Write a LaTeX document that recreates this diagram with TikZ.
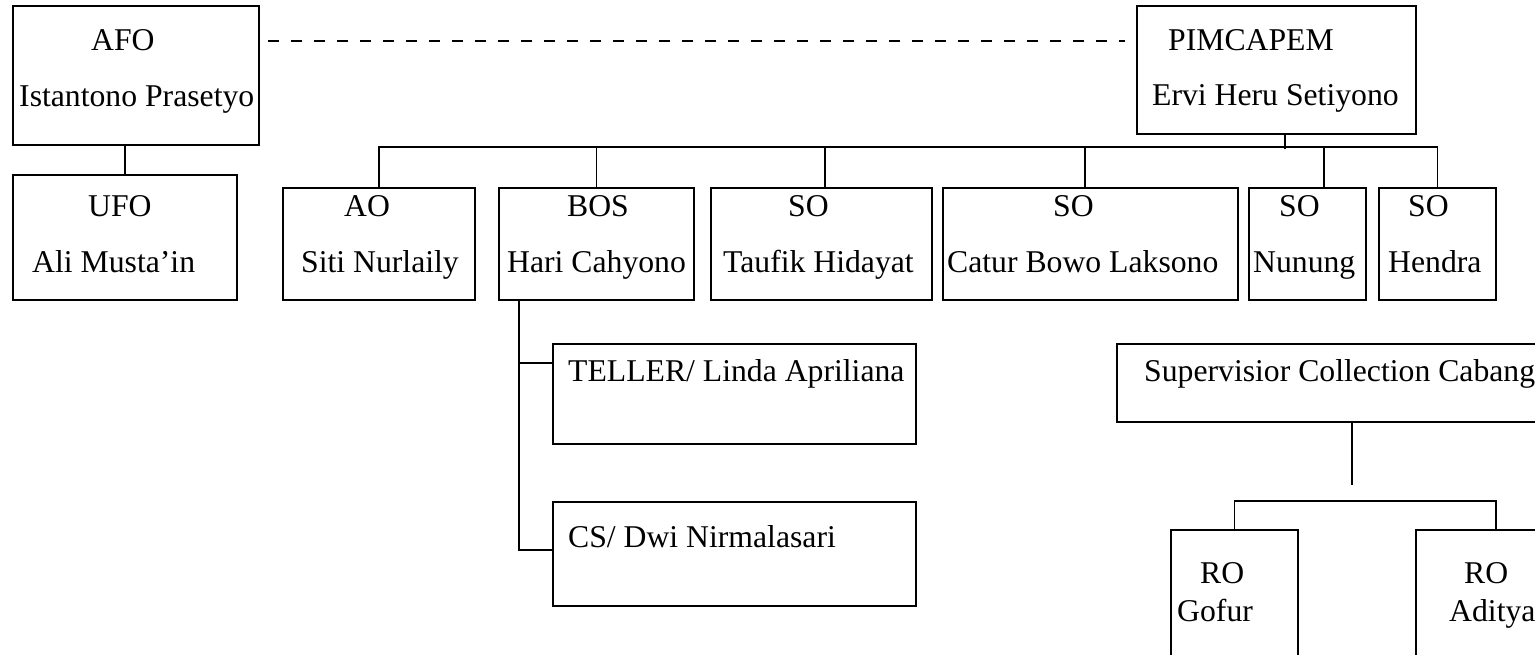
\documentclass[tikz,border=0pt]{standalone}
\usepackage{fontspec}
\setmainfont{Liberation Serif}
\usetikzlibrary{calc}

\begin{document}
\begin{tikzpicture}[
    x=1pt, y=-1pt,
    orgbox/.style={draw, rectangle, line width=1.8pt, inner sep=0pt},
    lbl/.style={anchor=base west, inner sep=0pt,
                font=\fontsize{31.7pt}{38pt}\selectfont},
    conn/.style={line width=1.8pt},
    linkdash/.style={line width=1.6pt, dash pattern=on 11pt off 12pt},
]
\useasboundingbox (0,0) rectangle (1535,654);
\clip (0,0) rectangle (1535,654);

% --- LEFT: AFO branch ---
\node[orgbox, minimum width=246pt, minimum height=139pt] (afo) at (136,75.5) {};
\node[orgbox, minimum width=224pt, minimum height=125pt] (ufo) at (125,237.5) {};
\node[lbl] (afo-t) at (91,50) {AFO};
\node[lbl] (afo-n) at (19,106) {Istantono Prasetyo};
\node[lbl] (ufo-t) at (88,216) {UFO};
\node[lbl] (ufo-n) at (32,272) {Ali Musta’in};
\draw[conn] (ufo.north) -- (ufo.north |- afo.south);

% --- TOP: PIMCAPEM and its staff ---
\node[orgbox, minimum width=279pt, minimum height=128pt] (pim) at (1276.5,70) {};
\node[lbl] (pim-t) at (1168,50) {PIMCAPEM};
\node[lbl] (pim-n) at (1152,105) {Ervi Heru Setiyono};
\draw[linkdash] ($(afo.north east)+(8,36)$) -- ($(pim.north west)+(-11,36)$);

\node[orgbox, minimum width=192pt, minimum height=112pt] (ao) at (379,244) {};
\node[orgbox, minimum width=195pt, minimum height=112pt] (bos) at (596.5,244) {};
\node[orgbox, minimum width=221pt, minimum height=112pt] (taufik) at (821.5,244) {};
\node[orgbox, minimum width=295pt, minimum height=112pt] (catur) at (1090.5,244) {};
\node[orgbox, minimum width=117pt, minimum height=112pt] (nunung) at (1307.5,244) {};
\node[orgbox, minimum width=117pt, minimum height=112pt] (hendra) at (1437.5,244) {};
\node[lbl] (ao-t) at (344,216) {AO};
\node[lbl] (ao-n) at (301,272) {Siti Nurlaily};
\node[lbl] (bos-t) at (567,216) {BOS};
\node[lbl] (bos-n) at (507,272) {Hari Cahyono};
\node[lbl] (taufik-t) at (788,216) {SO};
\node[lbl] (taufik-n) at (723,272) {Taufik Hidayat};
\node[lbl] (catur-t) at (1053,216) {SO};
\node[lbl] (catur-n) at (947,272) {Catur Bowo Laksono};
\node[lbl] (nunung-t) at (1279,216) {SO};
\node[lbl] (nunung-n) at (1253,272) {Nunung};
\node[lbl] (hendra-t) at (1408,216) {SO};
\node[lbl] (hendra-n) at (1388,272) {Hendra};

\draw[conn] ($(pim.south)+(8.5,0)$) -- ++(0,14);
\draw[conn] (ao.north) -- ++(0,-40) -| (hendra.north);
\draw[conn] (bos.north) -- ++(0,-40);
\draw[conn] ($(taufik.north)+(3.5,0)$) -- ++(0,-40);
\draw[conn] ($(catur.north)+(-5.5,0)$) -- ++(0,-40);
\draw[conn] ($(nunung.north)+(16.5,0)$) -- ++(0,-40);

% --- BOTTOM LEFT: under BOS ---
\node[orgbox, minimum width=363pt, minimum height=100pt] (teller) at (734.5,394) {};
\node[orgbox, minimum width=363pt, minimum height=104pt] (cs) at (734.5,554) {};
\node[lbl] (teller-t) at (568,381) {TELLER/ Linda Apriliana};
\node[lbl] (cs-t) at (568,547) {CS/ Dwi Nirmalasari};
\draw[conn] ($(bos.south)+(-77.5,0)$) |- ($(cs.west)+(0,-4)$);
\draw[conn] ($(teller.west)+(0,-31)$) -- ++(-34,0);

% --- BOTTOM RIGHT: collection ---
\node[orgbox, minimum width=470pt, minimum height=78pt] (sup) at (1352,383) {};
\node[lbl] (sup-t) at (1144,381) {Supervisior Collection Cabang};
\node[orgbox, minimum width=127pt, minimum height=160pt] (gofur) at (1234.5,610) {};
\node[orgbox, minimum width=160pt, minimum height=160pt] (aditya) at (1496,610) {};
\node[lbl] (gofur-t) at (1200,583) {RO};
\node[lbl] (gofur-n) at (1177,621) {Gofur};
\node[lbl] (aditya-t) at (1464,583) {RO};
\node[lbl] (aditya-n) at (1449,621) {Aditya};
\draw[conn] (sup.south) -- ++(0,62);
\draw[conn] (gofur.north) -- ++(0,-28) -| (aditya.north);
\end{tikzpicture}
\end{document}
